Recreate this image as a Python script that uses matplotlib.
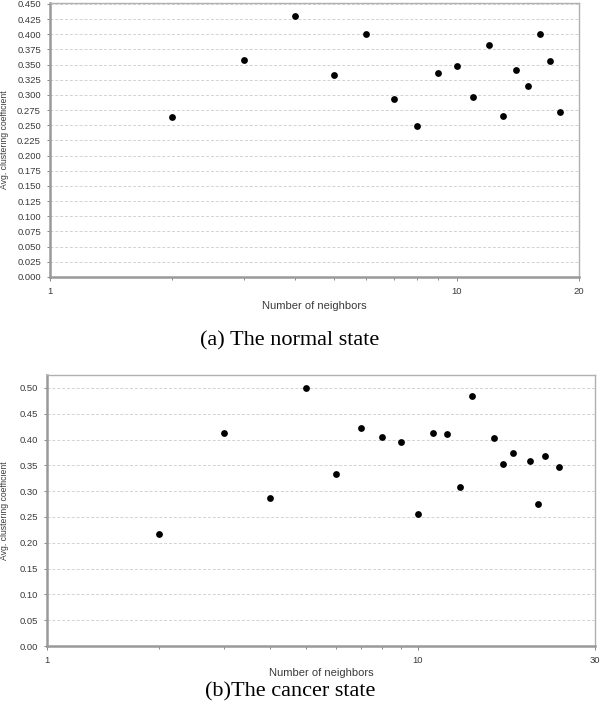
import numpy as np
import matplotlib
matplotlib.use("Agg")
import matplotlib.pyplot as plt
from matplotlib.ticker import FixedLocator, FixedFormatter, NullFormatter

plt.rcParams['font.family'] = ['Liberation Sans', 'DejaVu Sans']

# (a) normal state
normal_x = [2, 3, 4, 5, 6, 7, 8, 9, 10, 11, 12, 13, 14, 15, 16, 17, 18]
normal_y = [0.264, 0.358, 0.430, 0.333, 0.400, 0.293, 0.249, 0.336, 0.348,
            0.297, 0.382, 0.265, 0.341, 0.315, 0.400, 0.356, 0.272]

# (b) cancer state
cancer_x = [2, 3, 4, 5, 6, 7, 8, 9, 10, 11, 12, 13, 14, 16, 17, 18, 20, 21, 22, 24]
cancer_y = [0.217, 0.412, 0.286, 0.500, 0.333, 0.423, 0.404, 0.396, 0.256, 0.413,
            0.411, 0.308, 0.484, 0.403, 0.353, 0.373, 0.359, 0.276, 0.368, 0.347]

normal_yticks = np.arange(0, 0.451, 0.025)
cancer_yticks = np.arange(0, 0.501, 0.05)

W, H = 600, 723
fig = plt.figure(figsize=(W / 100, H / 100), dpi=100)


def px_axes(left, top, right, bottom):
    return fig.add_axes([left / W, 1 - bottom / H, (right - left) / W, (bottom - top) / H])


def style(ax, xs, ys, xmax, xmajor, yticks, ymax, yfmt, xlabelpad):
    ax.scatter(xs, ys, s=24, color='black', marker='o', linewidths=0, zorder=3)
    ax.set_xscale('log')
    ax.set_xlim(1, xmax)
    ax.set_ylim(0, ymax)
    ax.xaxis.set_major_locator(FixedLocator(xmajor))
    ax.xaxis.set_major_formatter(FixedFormatter([str(v) for v in xmajor]))
    ax.xaxis.set_minor_locator(FixedLocator(range(2, 10)))
    ax.xaxis.set_minor_formatter(NullFormatter())
    ax.set_yticks(yticks)
    ax.set_yticklabels([yfmt % v for v in yticks])
    ax.grid(axis='y', color='#d2d2d2', linestyle=(0, (3, 2)), linewidth=0.7)
    ax.set_axisbelow(True)
    for side in ['top', 'right']:
        ax.spines[side].set_color('#b0b0b0')
        ax.spines[side].set_linewidth(1.0)
    for side in ['left', 'bottom']:
        ax.spines[side].set_color('#999999')
        ax.spines[side].set_linewidth(1.8)
    ax.tick_params(axis='both', which='both', labelsize=6.8, colors='#888888',
                   labelcolor='#3a3a3a', length=2.5, width=0.7, pad=4)
    ax.tick_params(axis='x', which='major', length=3)
    ax.set_xlabel('Number of neighbors', fontsize=8, color='#3a3a3a', labelpad=xlabelpad)
    ax.set_ylabel('Avg. clustering coefficient', fontsize=6.2, color='#3a3a3a')


ax1 = px_axes(50, 3, 579, 277)
style(ax1, normal_x, normal_y, 20, [1, 10, 20], normal_yticks, 0.4515, '%.3f', 4)
ax1.yaxis.set_label_coords((9 - 50) / 529, 0.5)

ax2 = px_axes(47, 375, 595, 646)
style(ax2, cancer_x, cancer_y, 30, [1, 10, 30], cancer_yticks, 0.525, '%.2f', 2)
ax2.yaxis.set_label_coords((9 - 47) / 548, 0.5)

fig.text(290 / W, 1 - 341 / H, '(a) The normal state', ha='center', va='center',
         fontsize=16, family='Liberation Serif')
fig.text(290 / W, 1 - 692 / H, '(b)The cancer state', ha='center', va='center',
         fontsize=16, family='Liberation Serif')

fig.savefig('out.png', dpi=100)
